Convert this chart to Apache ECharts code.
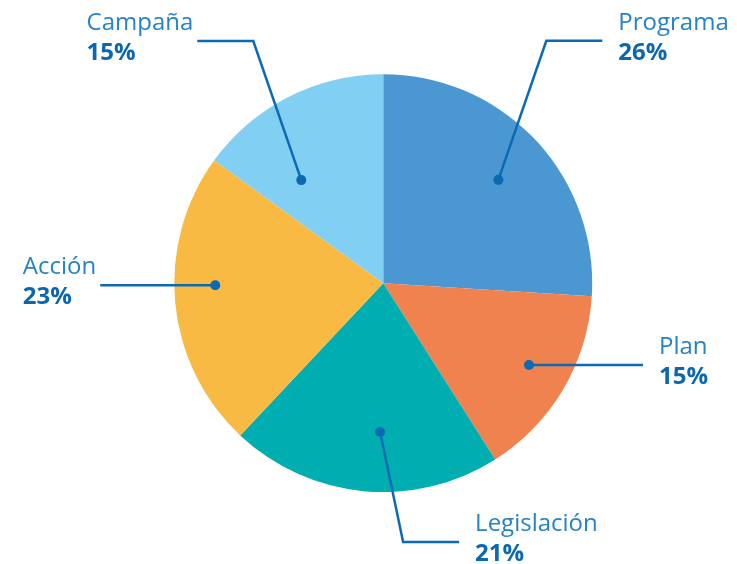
<!DOCTYPE html>
<html>
<head>
<meta charset="utf-8">
<style>
    html, body {margin: 0; padding: 0; background: #fff;}
    #pie_chart {width: 737px; height: 564px;}
</style>
<script src="https://cdn.jsdelivr.net/npm/echarts@6/dist/echarts.min.js"></script>
</head>
<body>
<div id="pie_chart"></div>
<script>
//datos
var categorias = ['Programa', 'Plan', 'Legislación', 'Acción', 'Campaña'];
var porcentajes = [26, 15, 21, 23, 15];
var colores = ['#4b97d2', '#f08250', '#00adb1', '#f9ba43', '#82cff4'];

//trazado de las guías (posición del punto y codo de la línea)
var guias = [
    {rf: 0.74, da: 1.3, codo: [48, -139], cola: 56},
    {rf: 0.80, da: -1.3, codo: null, cola: 114},
    {rf: 0.713, da: -4.2, codo: [23, 110], cola: 56},
    {rf: 0.804, da: 4.7, codo: null, cola: -115},
    {rf: 0.63, da: -11.5, codo: [-48, -139], cola: -56}
];

var azulLinea = '#0a6ab4';
var chart = echarts.init(document.getElementById('pie_chart'));

var pieData = categorias.map(function (name, i) {
    return {name: name, value: porcentajes[i], itemStyle: {color: colores[i]}};
});
var invisibles = categorias.map(function (name, i) {
    return {name: name, value: porcentajes[i], itemStyle: {color: 'rgba(0,0,0,0)'}};
});

//puntos de cada guía
var puntosGuia = function (i) {
    var w = chart.getWidth(), h = chart.getHeight();
    var cx = w * 0.52, cy = h * 0.502, r = Math.min(w, h) / 2 * 0.741;
    var total = 0, antes = 0;
    porcentajes.forEach(function (v, k) {
        total += v;
        if (k < i) antes += v;
    });
    var ang = (antes + porcentajes[i] / 2) / total * 360 + guias[i].da;
    var rad = ang * Math.PI / 180;
    var punto = [cx + Math.sin(rad) * r * guias[i].rf, cy - Math.cos(rad) * r * guias[i].rf];
    var pts = [punto];
    var codo = punto;
    if (guias[i].codo) {
        codo = [punto[0] + guias[i].codo[0], punto[1] + guias[i].codo[1]];
        pts.push(codo);
    }
    pts.push([codo[0] + guias[i].cola, codo[1]]);
    return pts;
};

var base = {
    type: 'pie',
    center: ['52%', '50.2%'],
    radius: '74.1%',
    startAngle: 90,
    clockwise: true,
    avoidLabelOverlap: false,
    emphasis: {disabled: true}
};

chart.setOption({
    animation: false,
    series: [
        //sectores
        Object.assign({}, base, {
            name: 'tema',
            data: pieData,
            label: {show: false},
            labelLine: {show: false}
        }),
        //textos y líneas
        Object.assign({}, base, {
            name: 'etiquetas',
            z: 5,
            silent: true,
            data: invisibles,
            label: {
                show: true,
                position: 'outside',
                overflow: 'none',
                formatter: function (p) {
                    return '{n|' + p.name + '}\n{p|' + p.value + '%}';
                },
                rich: {
                    n: {fontSize: 24, color: '#2483c5', fontFamily: 'Open Sans', lineHeight: 30},
                    p: {fontSize: 24, fontWeight: 'bold', color: '#0b67b0', fontFamily: 'Open Sans', lineHeight: 30}
                }
            },
            labelLine: {
                show: true,
                length: 5,
                length2: 5,
                lineStyle: {color: azulLinea, width: 2.5}
            },
            labelLayout: function (params) {
                var pts = puntosGuia(params.dataIndex);
                var fin = pts[pts.length - 1];
                var derecha = guias[params.dataIndex].cola > 0;
                return {
                    x: derecha ? fin[0] + 16 : fin[0] - 4 - params.labelRect.width,
                    y: fin[1] - 3,
                    align: 'left',
                    verticalAlign: 'middle',
                    labelLinePoints: pts
                };
            }
        }),
        //puntos de las guías
        Object.assign({}, base, {
            name: 'puntos',
            z: 6,
            silent: true,
            data: invisibles,
            label: {
                show: true,
                position: 'inside',
                formatter: ' ',
                width: 10,
                height: 10,
                padding: 0,
                borderRadius: 5,
                backgroundColor: azulLinea
            },
            labelLine: {show: false},
            labelLayout: function (params) {
                var p = puntosGuia(params.dataIndex)[0];
                return {x: p[0], y: p[1], align: 'center', verticalAlign: 'middle'};
            }
        })
    ]
});
</script>
</body>
</html>
